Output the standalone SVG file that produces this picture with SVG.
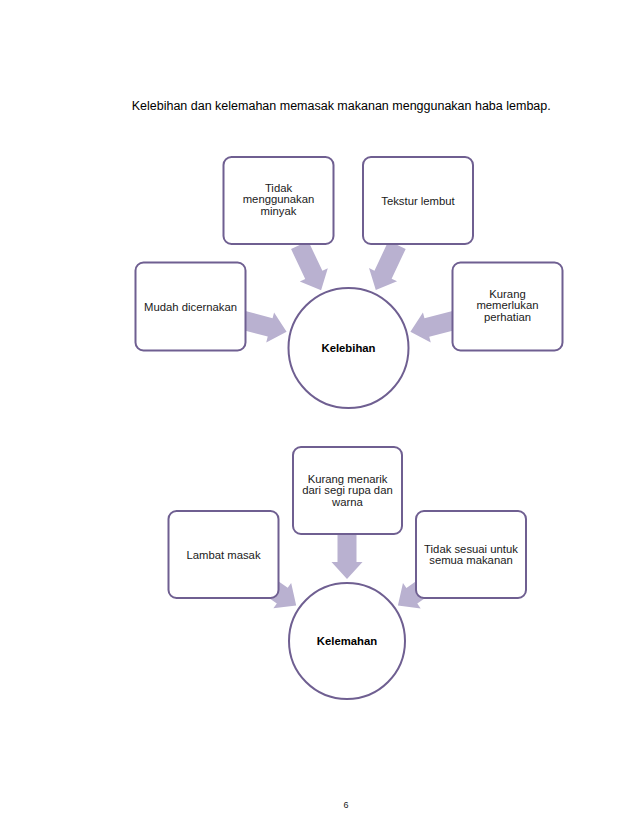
<svg xmlns="http://www.w3.org/2000/svg" xmlns:xlink="http://www.w3.org/1999/xlink" width="638" height="826" viewBox="0 0 638 826">
<style>
.box{fill:#ffffff;stroke:#6f5f91;stroke-width:2}
.circ{fill:#ffffff;stroke:#6f5f91;stroke-width:2}
.arr{fill:#b9b1d0}
.t{font-family:"Liberation Sans",Arial,sans-serif;font-size:11.3px;fill:#1a1a1a;text-anchor:middle}
.b{font-weight:bold;fill:#000}
.title{font-family:"Liberation Sans",Arial,sans-serif;font-size:12.5px;fill:#000}
.pg{font-family:"Liberation Sans",Arial,sans-serif;font-size:9px;fill:#222;text-anchor:middle}
</style>
<defs>
<path id="arrow" d="M0,0 L-17,-15.5 L-17,-9.5 L-50,-9.5 L-50,9.5 L-17,9.5 L-17,15.5 Z"/>
</defs>
<rect width="638" height="826" fill="#ffffff"/>
<text class="title" x="131.7" y="110">Kelebihan dan kelemahan memasak makanan menggunakan haba lembap.</text>
<g id="connectors">
<use xlink:href="#arrow" class="arr" transform="translate(321.1,290.2) rotate(64.6)"/>
<use xlink:href="#arrow" class="arr" transform="translate(375.8,290.1) rotate(115.2)"/>
<use xlink:href="#arrow" class="arr" transform="translate(286.6,331.7) rotate(14.7)"/>
<use xlink:href="#arrow" class="arr" transform="translate(410.4,331.8) rotate(165.4)"/>
<use xlink:href="#arrow" class="arr" transform="translate(347,579) rotate(90)"/>
<use xlink:href="#arrow" class="arr" transform="translate(296.2,605.4) rotate(35)"/>
<use xlink:href="#arrow" class="arr" transform="translate(397.9,605.5) rotate(145.1)"/>
</g>
<g id="kelebihan">
<circle class="circ" cx="348.5" cy="348" r="60"/>
<text class="t b" x="348.5" y="352">Kelebihan</text>
</g>
<g id="tidak-minyak">
<rect class="box" x="223.5" y="157" width="110" height="87" rx="8"/>
<text class="t" x="278.5" y="191.5">Tidak<tspan x="278.5" dy="11.8">menggunakan</tspan><tspan x="278.5" dy="11.8">minyak</tspan></text>
</g>
<g id="tekstur">
<rect class="box" x="363" y="157" width="110" height="87" rx="8"/>
<text class="t" x="418" y="204.5">Tekstur lembut</text>
</g>
<g id="mudah">
<rect class="box" x="135.5" y="262.5" width="110" height="88" rx="8"/>
<text class="t" x="190.5" y="310.5">Mudah dicernakan</text>
</g>
<g id="kurang-perhatian">
<rect class="box" x="452.5" y="262.5" width="110" height="88" rx="8"/>
<text class="t" x="507.5" y="297.7">Kurang<tspan x="507.5" dy="11.6">memerlukan</tspan><tspan x="507.5" dy="11.6">perhatian</tspan></text>
</g>
<g id="kelemahan">
<circle class="circ" cx="347" cy="641" r="58"/>
<text class="t b" x="347" y="645">Kelemahan</text>
</g>
<g id="kurang-menarik">
<rect class="box" x="293" y="447" width="109" height="87" rx="8"/>
<text class="t" x="347.5" y="482.7">Kurang menarik<tspan x="347.5" dy="11.6">dari segi rupa dan</tspan><tspan x="347.5" dy="11.6">warna</tspan></text>
</g>
<g id="lambat">
<rect class="box" x="168.5" y="511" width="110" height="87" rx="8"/>
<text class="t" x="223.5" y="559">Lambat masak</text>
</g>
<g id="tidak-sesuai">
<rect class="box" x="416" y="511" width="110" height="87" rx="8"/>
<text class="t" x="471" y="552.7">Tidak sesuai untuk<tspan x="471" dy="11.4">semua makanan</tspan></text>
</g>
<text class="pg" x="346" y="808">6</text>
</svg>
